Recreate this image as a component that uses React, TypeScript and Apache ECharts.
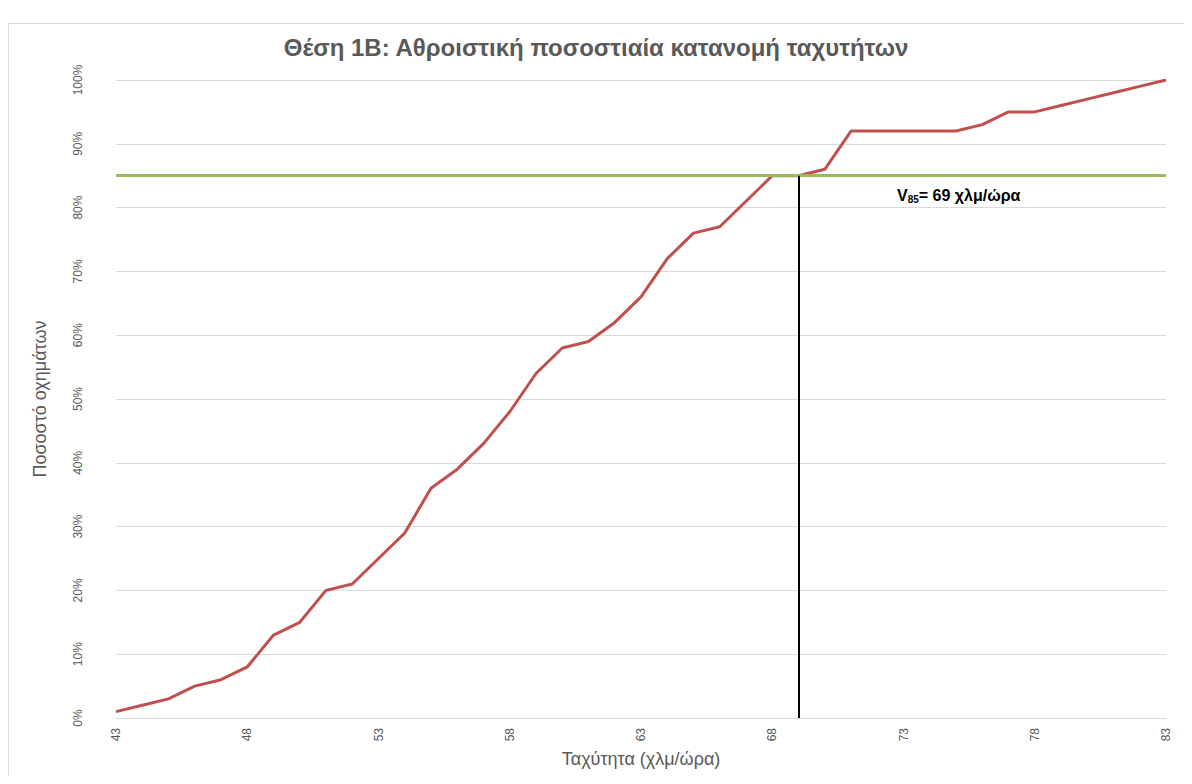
import React, { useEffect, useRef } from "react";
import * as echarts from "echarts";

const speeds: string[] = [
  "43","44","45","46","47","48","49","50","51","52","53","54","55","56","57","58","59","60","61","62","63",
  "64","65","66","67","68","69","70","71","72","73","74","75","76","77","78","79","80","81","82","83",
];
const cumulativePct: number[] = [
  1, 2, 3, 5, 6, 8, 13, 15, 20, 21, 25, 29, 36, 39, 43, 48, 54, 58, 59, 62, 66,
  72, 76, 77, 81, 85, 85, 86, 92, 92, 92, 92, 92, 93, 95, 95, 96, 97, 98, 99, 100,
];
const v85Speed = "69";
const v85Pct = 85;
const titleText = "Θέση 1Β: Αθροιστική ποσοστιαία κατανομή ταχυτήτων";
const xName = "Ταχύτητα (χλμ/ώρα)";
const yName = "Ποσοστό οχημάτων";

export default function App() {
  const ref = useRef<HTMLDivElement>(null);
  useEffect(() => {
    if (!ref.current) return;
    const chart = echarts.init(ref.current, null, { renderer: "svg" });
    const font = "'Liberation Sans', Arial, sans-serif";
    chart.setOption({
      animation: false,
      backgroundColor: "#ffffff",
      textStyle: { fontFamily: font },
      title: {
        text: titleText,
        left: "center",
        top: 30,
        textStyle: { fontFamily: font, fontSize: 24, fontWeight: "bold", color: "#595959" },
      },
      graphic: [
        {
          type: "rect",
          shape: { x: 8.5, y: 23.5, width: 1200, height: 800 },
          style: { fill: "none", stroke: "#d9d9d9", lineWidth: 1 },
          silent: true,
        },
        {
          type: "text",
          left: 897,
          top: 187,
          style: {
            text: "{v|V}{s|85}{v|= 69 χλμ/ώρα}",
            rich: {
              v: { fontFamily: font, fontSize: 16, fontWeight: "bold", fill: "#000000" },
              s: { fontFamily: font, fontSize: 10, fontWeight: "bold", fill: "#000000", padding: [8, 0, 0, 0] },
            },
          },
        },
      ],
      grid: { left: 116, right: 26, top: 80, bottom: 66, containLabel: false },
      xAxis: {
        type: "category",
        data: speeds,
        boundaryGap: false,
        name: xName,
        nameLocation: "middle",
        nameGap: 32,
        nameTextStyle: { fontFamily: font, fontSize: 18, color: "#595959" },
        axisLine: { lineStyle: { color: "#d9d9d9", width: 1 } },
        axisTick: { show: false },
        axisLabel: { interval: 4, rotate: 90, color: "#595959", fontSize: 12, margin: 10 },
        splitLine: { show: false },
      },
      yAxis: {
        type: "value",
        min: 0,
        max: 100,
        interval: 10,
        name: yName,
        nameLocation: "middle",
        nameGap: 67,
        nameTextStyle: { fontFamily: font, fontSize: 18, color: "#595959" },
        axisLine: { show: false },
        axisTick: { show: false },
        axisLabel: { rotate: 90, color: "#595959", fontSize: 12, margin: 32, formatter: "{value}%" },
        splitLine: { lineStyle: { color: "#d9d9d9", width: 1 } },
      },
      series: [
        {
          type: "line",
          data: cumulativePct,
          symbol: "none",
          lineStyle: { color: "#C0504D", width: 3 },
          z: 3,
          markLine: {
            silent: true,
            symbol: "none",
            label: { show: false },
            data: [
              [
                { coord: [speeds[0], v85Pct], lineStyle: { color: "#9BBB59", width: 3, type: "solid" } },
                { coord: [speeds[speeds.length - 1], v85Pct] },
              ],
              [
                { coord: [v85Speed, 0], lineStyle: { color: "#000000", width: 2, type: "solid" } },
                { coord: [v85Speed, v85Pct] },
              ],
            ],
          },
        },
      ],
    });
    return () => chart.dispose();
  }, []);
  return <div ref={ref} style={{ width: 1192, height: 784, margin: -8 }} />;
}
